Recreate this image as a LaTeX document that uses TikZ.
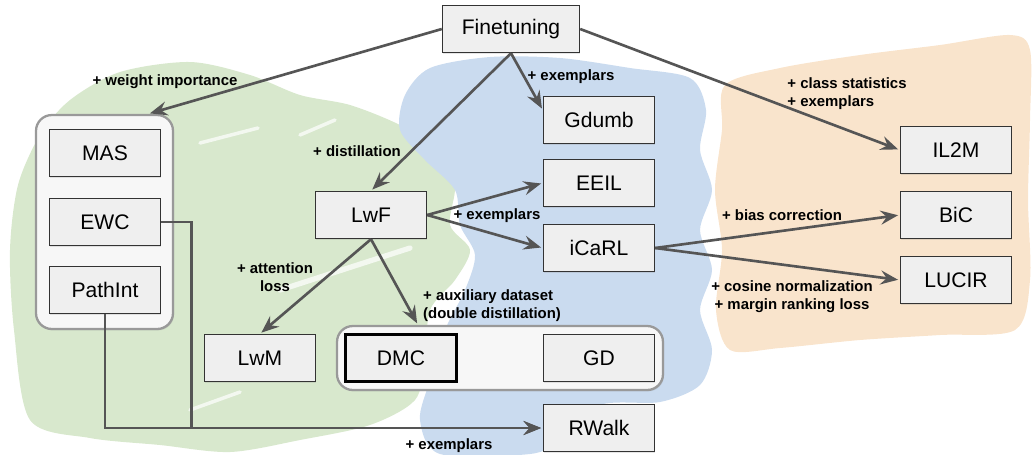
\documentclass[tikz,border=0pt]{standalone}
\usepackage{fontspec}
\setmainfont{Liberation Sans}
\usepackage{tikz}
\usetikzlibrary{positioning}
\usetikzlibrary{arrows.meta,shadows}

\definecolor{greenbg}{RGB}{216,232,205}
\definecolor{bluebg}{RGB}{202,219,239}
\definecolor{orangebg}{RGB}{249,228,204}
\definecolor{boxfill}{RGB}{239,239,239}
\definecolor{arrowgray}{RGB}{85,85,85}

\begin{document}
\begin{tikzpicture}[x=0.02cm, y=-0.02cm]
        \useasboundingbox (0,0) rectangle (1033,454);

        % painted background
        \fill[greenbg] plot[smooth cycle] coordinates {(14,330) (10,250) (18,185) (40,135) (70,100) (120,72) (190,62) (250,75) (300,95) (350,105) (400,125) (440,150) (455,185) (450,225) (470,250) (455,280) (430,310) (425,360) (415,400) (370,425) (300,440) (230,452) (160,445) (90,438) (30,420)};
        \fill[bluebg] plot[smooth cycle] coordinates {(405,95) (430,68) (490,57) (560,58) (630,68) (690,78) (706,110) (700,150) (712,190) (700,230) (712,270) (700,310) (712,350) (700,385) (660,402) (600,405) (560,440) (530,454) (440,454) (420,420) (430,380) (445,330) (465,290) (475,255) (460,225) (455,190) (425,160) (400,130)};
        \fill[orangebg] plot[smooth cycle] coordinates {(725,85) (780,68) (860,55) (940,45) (1010,35) (1030,50) (1030,120) (1028,200) (1030,280) (1015,330) (940,335) (860,340) (780,348) (730,350) (716,310) (722,250) (715,190) (722,130)};
        \begin{scope}[draw=white, line cap=round, opacity=0.7]
            \draw[line width=2pt] (200,143) -- (258,128);
            \draw[line width=2pt] (300,135) -- (335,120);
            \draw[line width=3pt] (280,290) -- (410,248);
            \draw[line width=2pt] (190,410) -- (240,392);
        \end{scope}

        \begin{scope}[every node/.style={draw=black!40, line width=1.3pt, fill=black!3,
            rounded corners=9pt, drop shadow={opacity=0.2, shadow xshift=0.6pt, shadow yshift=-0.8pt}}]
            \node (grpA) at (104.5,222) [minimum width=2.74cm, minimum height=4.28cm] {};
            \node (grpB) at (500,358) [minimum width=6.52cm, minimum height=1.28cm] {};
        \end{scope}

        \begin{scope}[every node/.style={draw=black!80, line width=0.8pt, fill=boxfill,
            minimum width=2.22cm, minimum height=0.94cm, inner sep=0pt,
            font=\fontsize{12}{14}\selectfont,
            drop shadow={opacity=0.2, shadow xshift=0.5pt, shadow yshift=-0.8pt}}]
            \node (ft) at (511,29) [minimum width=2.74cm] {Finetuning};
            \node (mas) at (105,153) {MAS};
            \node (ewc) at (105,222) {EWC};
            \node (pathint) at (105,290) {PathInt};
            \node (lwf) at (371,215) {LwF};
            \node (lwm) at (260,358) {LwM};
            \node (dmc) at (401,358) [draw=black, line width=1.3pt] {DMC};
            \node (gd) at (599,358) {GD};
            \node (gdumb) at (599,120) {Gdumb};
            \node (eeil) at (599,183) {EEIL};
            \node (icarl) at (599,248) {iCaRL};
            \node (rwalk) at (599,428) {RWalk};
            \node (il2m) at (956,150) {IL2M};
            \node (bic) at (956,215) {BiC};
            \node (lucir) at (956,280) {LUCIR};
        \end{scope}

        \begin{scope}[>={Stealth[length=10pt, width=8pt, inset=3.5pt]},
            every node/.style={font=\bfseries\fontsize{8.5}{10.2}\selectfont, inner sep=0pt},
            every edge/.style={draw=arrowgray, line width=1.5pt, shorten >=1pt}]
            \path [->] (ft.west) edge (grpA.68);
            \path [->] (ft.south) edge (lwf.north);
            \path [->] (ft.south) edge (gdumb.170);
            \path [->] (ft.east) edge (il2m.west);
            \path [->] (lwf.east) edge (eeil.west);
            \path [->] (lwf.east) edge (icarl.west);
            \path [->] (lwf.south) edge (lwm.north);
            \path [->] (lwf.south) edge (grpB.158);
            \path [->] (icarl.east) edge (bic.west);
            \path [->] (icarl.east) edge (lucir.west);
            \draw [->, draw=arrowgray, line width=1.5pt, shorten >=1pt] (ewc.east) -- ++(30,0) |- (rwalk.west);
            \draw [->, draw=arrowgray, line width=1.5pt, shorten >=1pt] (pathint.south) |- (rwalk.west);

            \node (lweight) at (165,82) {+ weight importance};
            \node (ldistil) at (357,151) {+ distillation};
            \node (lgdumb) at (571,77) {+ exemplars};
            \node (lil2m) at (847,94) [align=left] {+ class statistics\\+ exemplars};
            \node (licarl) at (497,216) {+ exemplars};
            \node (lbic) at (782,215) {+ bias correction};
            \node (llucir) at (792,297) [align=center] {+ cosine normalization\\+ margin ranking loss};
            \node (llwm) at (275,277) [align=center] {+ attention\\loss};
            \node (ldmc) at (492,306) [align=left] {+ auxiliary dataset\\(double distillation)};
            \node (lrwalk) at (449,446) {+ exemplars};
        \end{scope}
    \end{tikzpicture}
\end{document}
